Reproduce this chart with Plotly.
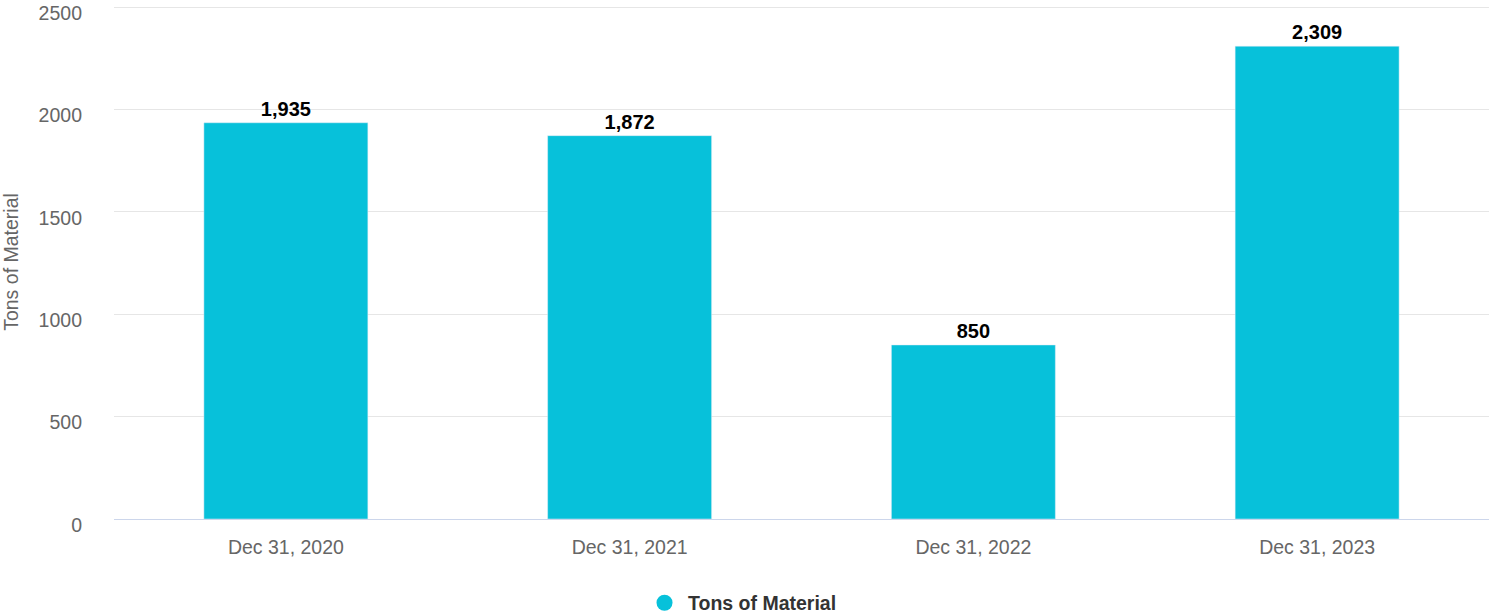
import plotly.graph_objects as go

categories = ["Dec 31, 2020", "Dec 31, 2021", "Dec 31, 2022", "Dec 31, 2023"]
tons = [1935, 1872, 850, 2309]
series_name = "Tons of Material"
y_ticks = [0, 500, 1000, 1500, 2000, 2500]

BAR = "#07c1da"
FONT = "Liberation Sans, Arial, sans-serif"

fig = go.Figure()
fig.add_trace(go.Bar(
    x=categories, y=tons, name=series_name, marker_color=BAR,
    texttemplate="%{y:,}", textposition="outside", cliponaxis=False,
    textfont=dict(family=FONT, size=20, color="#000000", weight="bold"),
    showlegend=False,
))
# legend entry with circle marker
fig.add_trace(go.Scatter(
    x=[None], y=[None], mode="markers", name=series_name,
    marker=dict(color=BAR, size=20, symbol="circle"), showlegend=True,
))

fig.update_layout(
    width=1489, height=616,
    margin=dict(l=114, r=0, t=5, b=97, autoexpand=False),
    paper_bgcolor="white", plot_bgcolor="white",
    font=dict(family=FONT, size=19.5, color="#666666"),
    bargap=0.523,
    legend=dict(orientation="h", xref="container", yref="container",
                x=0.498, xanchor="center", y=0.021, yanchor="middle",
                font=dict(family=FONT, size=19.5, color="#333333", weight="bold"),
                itemwidth=37),
    xaxis=dict(type="category", showgrid=False, showline=True, linecolor="#ccd6eb",
               linewidth=1, ticks="", ticklabelstandoff=11, automargin=False,
               tickfont=dict(size=19.5, color="#666666")),
    yaxis=dict(range=[0, 2510], tickvals=y_ticks, showgrid=True, gridcolor="#e6e6e6",
               zeroline=False, showline=False, ticks="", ticklabelstandoff=31,
               ticklabelshift=6, ticklabeloverflow="allow", automargin=False,
               tickfont=dict(size=19.5, color="#666666"),
               title=dict(text=series_name, standoff=18,
                          font=dict(size=19.5, color="#666666"))),
)
fig.write_html("out.html", config={"displayModeBar": False},
               post_script="document.body.style.margin='0';")
